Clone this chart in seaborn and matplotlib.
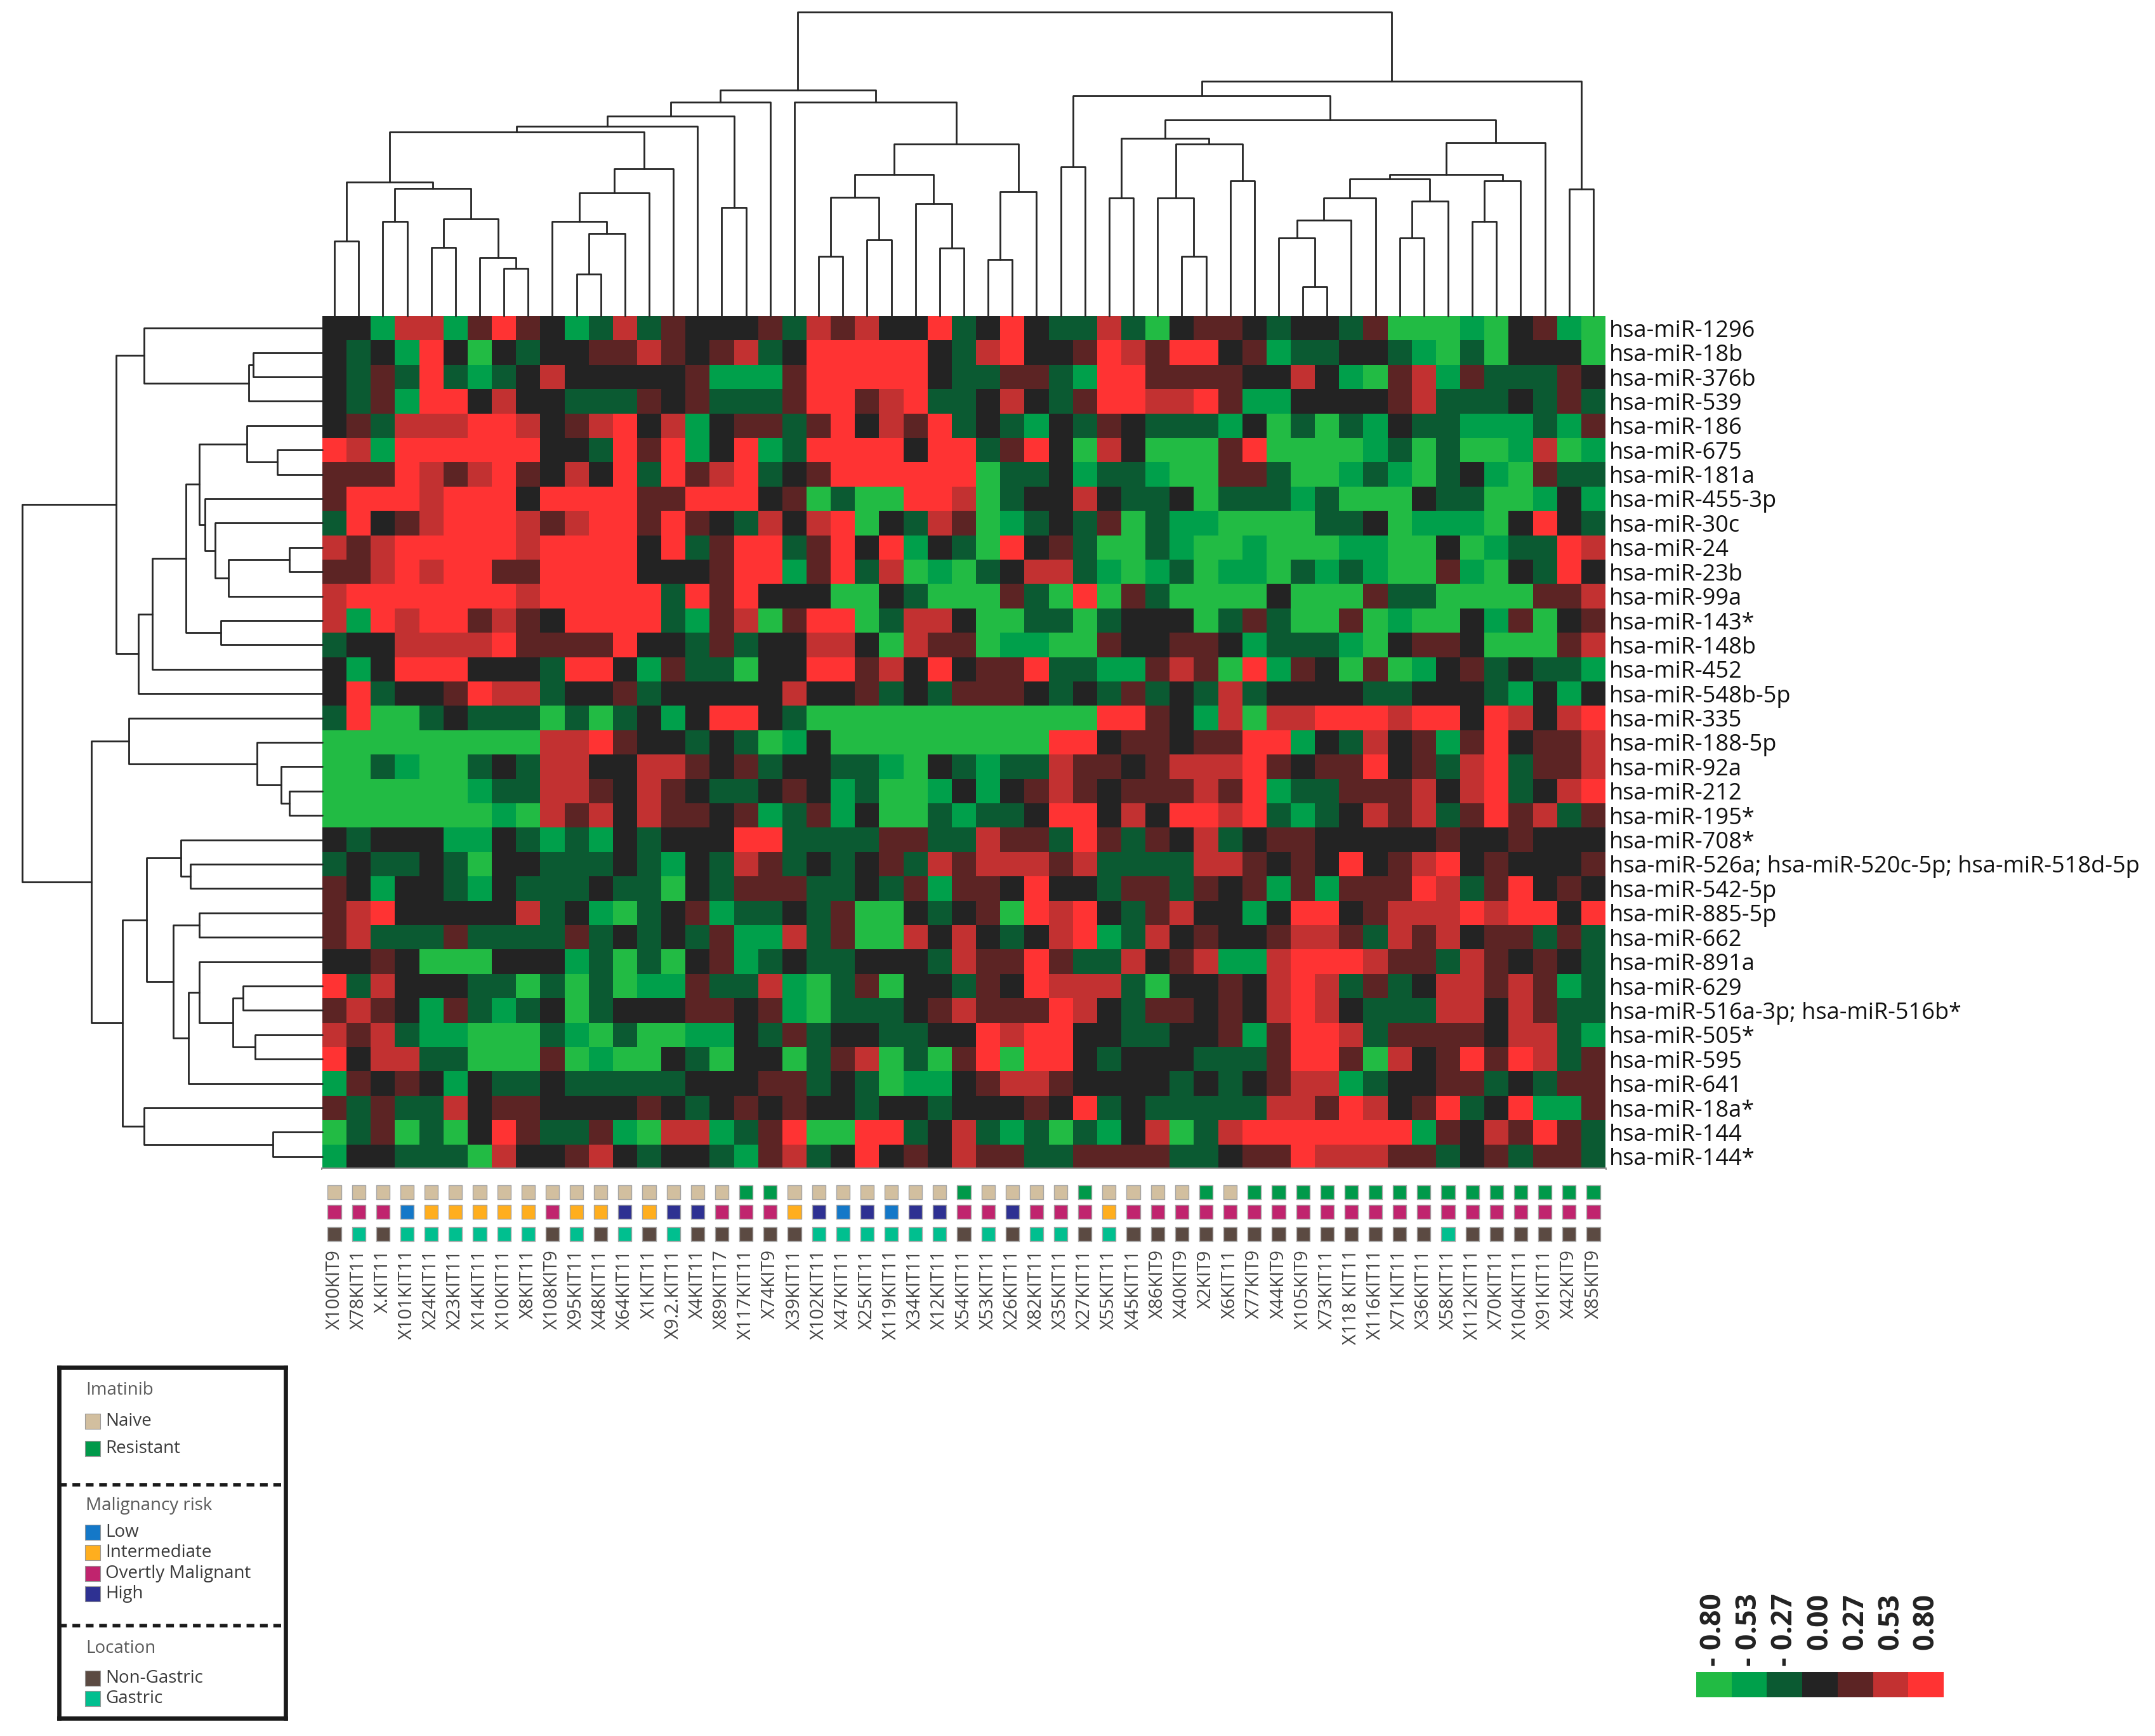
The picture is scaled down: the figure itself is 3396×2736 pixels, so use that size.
import numpy as np
import pandas as pd
import matplotlib
matplotlib.use("Agg")
import matplotlib.pyplot as plt
from matplotlib.colors import ListedColormap
from matplotlib.transforms import blended_transform_factory
import seaborn as sns

# ---- values ----
mirnas = ["hsa-miR-1296", "hsa-miR-18b", "hsa-miR-376b", "hsa-miR-539", "hsa-miR-186",
          "hsa-miR-675", "hsa-miR-181a", "hsa-miR-455-3p", "hsa-miR-30c", "hsa-miR-24",
          "hsa-miR-23b", "hsa-miR-99a", "hsa-miR-143*", "hsa-miR-148b", "hsa-miR-452",
          "hsa-miR-548b-5p", "hsa-miR-335", "hsa-miR-188-5p", "hsa-miR-92a", "hsa-miR-212",
          "hsa-miR-195*", "hsa-miR-708*", "hsa-miR-526a; hsa-miR-520c-5p; hsa-miR-518d-5p",
          "hsa-miR-542-5p", "hsa-miR-885-5p", "hsa-miR-662", "hsa-miR-891a", "hsa-miR-629",
          "hsa-miR-516a-3p; hsa-miR-516b*", "hsa-miR-505*", "hsa-miR-595", "hsa-miR-641",
          "hsa-miR-18a*", "hsa-miR-144", "hsa-miR-144*"]

samples = ["X100KIT9", "X78KIT11", "X.KIT11", "X101KIT11", "X24KIT11", "X23KIT11",
           "X14KIT11", "X10KIT11", "X8KIT11", "X108KIT9", "X95KIT11", "X48KIT11",
           "X64KIT11", "X1KIT11", "X9.2.KIT11", "X4KIT11", "X89KIT17", "X117KIT11",
           "X74KIT9", "X39KIT11", "X102KIT11", "X47KIT11", "X25KIT11", "X119KIT11",
           "X34KIT11", "X12KIT11", "X54KIT11", "X53KIT11", "X26KIT11", "X82KIT11",
           "X35KIT11", "X27KIT11", "X55KIT11", "X45KIT11", "X86KIT9", "X40KIT9",
           "X2KIT9", "X6KIT11", "X77KIT9", "X44KIT9", "X105KIT9", "X73KIT11",
           "X118 KIT11", "X116KIT11", "X71KIT11", "X36KIT11", "X58KIT11", "X112KIT11",
           "X70KIT11", "X104KIT11", "X91KIT11", "X42KIT9", "X85KIT9"]

# colour steps of the scale, one letter per step
level_codes = "GgdkmrR"
level_values = [-0.80, -0.53, -0.27, 0.00, 0.27, 0.53, 0.80]
level_colors = ["#22bb44", "#00a04b", "#0b5a32", "#232323", "#5c2424", "#c23131", "#ff3333"]
cbar_labels = ["- 0.80", "- 0.53", "- 0.27", "0.00", "0.27", "0.53", "0.80"]

expr_rows = [
    "kkgrrgmRmkgdrdmkkk mdrmrkkRdkRkddrdGk mmkdkkdmGGGgGkmgG",
    "kdkgRkGkdkkmmrmkmr dkRRRRRkdrRkkmRrmR RkmgddkkdgGdGkkkG",
    "kdmdRdgdkrkkkkkmgg gmRRRRRkddmmdgRRmm mmkkrkgGmrgmdddmk",
    "kdmgRRkrkkdddmkmdd dmRRmrRddkrkdmRRrr Rmggkkkkmrdddkdmd",
    "kmdrrrRRrkmrRkrgkm mdmRkrmRdkdgkdmkdd dgkGdGdgkddgggdgm",
    "RrgRRRRRRkkdRmRgkR gdRRRRkRRdmRkGrkGG GmRGGGGgdGdGGgrGg",
    "mmmRrmrRmkrkRdRmrR dkmRRRRRRGddkgddgG GmmdGGgdgGdkgGmdd",
    "mRRRrRRRkRRRRmmRRR kmGdGGRRrGdkkrkddk GdddgdGGGkddGGgkg",
    "dRkmrRRRrmrRRmRmkd rkrRGkdrmGgdkdmGdg gGGGGddkGgggGkRkd",
    "rmrRRRRRrRRRRkRdmR RdmRkRgkdGRkmdGGdg GGgGGGggGGkGgddRr",
    "mmrRrRRmmRRRRkkkmR RgmRdrGgGdkrrdgGgd GggGdgdgGGmgGkdRk",
    "rRRRRRRRrRRRRRdRmR kkkGGkdGGGmdGRGmdG GGGkGGGmddGGGGmmr",
    "rgRrRRmrmkRRRRdgmr GmRRGdrrkGGddGdkkk GdmdGGmGgGGkgmGkm",
    "dkkrrrrRmmmmRkkdmd kkrrkGrmmGggGGmkkm mkgdddgGkmmkGGGmr",
    "kgkRRRkkkdRRkgmddG kkRRmrkRkmmRddggmr mGRgmkGmGgkmdkddg",
    "kRdkkmRrrdkkmdkkkk krkkmdkdmmmkdkdmdk drdkkkkddkkkdgkgk",
    "dRGGdkdddGdGdkgkRR kdGGGGGGGGGGGGRRmk grGrrRRRrRRkRrkrR",
    "GGGGGGGGGrrRmkkdkd GgkGGGGGGGGGRRkmmk mmRRgkdrkmgmRkmmr",
    "GGdgGGdkdrrkkrrmkm dkkddgGkdgddrmmkmr rrRmkmmRkmdrRdmmr",
    "GGGGGGgddrrmkrmkdd kmkgdGGgkgkmrmkmmm rmRgddmmmrkrRdkrR",
    "GGGGGGGgGrmrkrmmkm gdmgkGGdgddkRRkrkR RrRdgdkrmrdmRmrdm",
    "kdkkkggkdgdgkdkkkR RddddmmddrmmdRmdmk rdkmmkkkkkmkkmkkk",
    "dkddkdGkkdddkdgkdr mdkdkmdrmrrrmrdddd rrmkmkRkmrRkmkkkm",
    "mkgkkdgkdddkddGkdm mmddkdmgmmkRkkdmmd mkmgmgmmmRrdmRkmk",
    "mrRkkkkkrdkgGdkmgd dkdmGGkdkmGRrRkdmr kkgkRRkmrrrRrRRkR",
    "mrdddmddddmdkdkdmg grdmGGrkrkdkrRgdrk mkkmrrmdrmrkmmdmd",
    "kkmkGGGkkkgdGdGkmg dkddkkkdrmmRmddrkm rggrRRRrmmdrmkmkd",
    "RdrkkkddGdGdGggmdd rgGdmGkkdmkRrrrdGk kmkrRrdmdkrrmrmgd",
    "mrmkgmdgdkGdkkkmmk mgGdddkmrmmmRrkdmm kmkrRrkdddrrkrmdd",
    "rmrdggGGGdgGdGGggk dmdkkddkkRrRRkkddk kmgmRRrdmmmmkrrdg",
    "RkrrddGGGmGgGGkdGk kGdmrGdGmRGRRkdkkk dddmRRmGrkmRmRrdm",
    "gmkmkgkddkdddddkkk mmdkdGggkmrrmkkkkd kdkmrrgdkkmmdkdmm",
    "mdmddrkmmkkkkmkdkm kmkkdkkdkkkmkRdkdd dddrrmRrkmRdkRggm",
    "GdmGdGkRmddmgGrrgd mRGGRRdkrdgdGdgkrG drRRRRRRRgmkrmRmd",
    "gkkdddGrkkmrkdkkdg mrdkRkmkrmmddmmmmd dkmmRrrrmmdkmdmmd",
]

# sample annotations, one letter per column
imatinib = "NNNNNNNNNNNNNNNNNRRNNNNNNNRNNNNRNNNNRNRRRRRRRRRRRRRRR"
malignancy = "OOOLIIIIIOIIHIHHOOOIHLHLHHOOHOOOIOOOOOOOOOOOOOOOOOOOO"
location = "NGNGGGGGGNGNGNGNNNNNGGGGGGNGNGGNGNNNNNNNNNNNNNGNNNNNN"

imatinib_keys = "NR"
imatinib_names = ["Naive", "Resistant"]
imatinib_colors = ["#d2bf9f", "#00994a"]
risk_keys = "LIOH"
risk_names = ["Low", "Intermediate", "Overtly Malignant", "High"]
risk_colors = ["#1478c8", "#ffae1e", "#c0246e", "#2e3192"]
location_keys = "NG"
location_names = ["Non-Gastric", "Gastric"]
location_colors = ["#5b4a42", "#00bf8f"]

# dendrogram merges: (node, left, right, height in picture pixels)
col_merges = [
    ("A", 0, 1, 118), ("B", 2, 3, 149), ("C", 4, 5, 108), ("D", 7, 8, 75),
    ("E", 6, "D", 92), ("F", "C", "E", 153), ("G", "B", "F", 201), ("H", "A", "G", 211),
    ("J", 10, 11, 66), ("K", "J", 12, 130), ("L", 9, "K", 149), ("M", "L", 13, 194),
    ("N", "M", 14, 232), ("O", "H", "N", 290), ("P", "O", 15, 299), ("Q", 16, 17, 171),
    ("R", "P", "Q", 315), ("S", "R", 18, 337), ("T", 20, 21, 94), ("U", 22, 23, 120),
    ("V", "T", "U", 187), ("W", 25, 26, 107), ("X", 24, "W", 177), ("Y", "V", "X", 223),
    ("Z", 27, 28, 89), ("AA", "Z", 29, 196), ("AB", "Y", "AA", 271), ("AC", 19, "AB", 337),
    ("AD", "S", "AC", 356),
    ("BA", 30, 31, 235), ("BB", 32, 33, 186), ("BC", 35, 36, 94), ("BD", 34, "BC", 186),
    ("BE", 37, 38, 213), ("BF", "BD", "BE", 271), ("BG", "BB", "BF", 280),
    ("BH", 40, 41, 46), ("BI", 39, "BH", 123), ("BJ", "BI", 42, 151), ("BK", "BJ", 43, 186),
    ("BL", 44, 45, 123), ("BM", "BL", 46, 181), ("BN", 47, 48, 149), ("BO", "BN", 49, 213),
    ("BP", "BK", "BM", 216), ("BQ", "BP", "BO", 223), ("BR", "BQ", 50, 273),
    ("BS", "BG", "BR", 309), ("BT", "BA", "BS", 347), ("BU", 51, 52, 200),
    ("BV", "BT", "BU", 370), ("root", "AD", "BV", 479),
]

row_merges = [
    ("a", 1, 2, 109), ("b", "a", 3, 116), ("c", 0, "b", 281), ("d", 5, 6, 71),
    ("e", 4, "d", 119), ("f", 9, 10, 52), ("g", "f", 11, 148), ("h", 8, "g", 169),
    ("i", 7, "h", 185), ("j", "e", "i", 194), ("k", 12, 13, 160), ("l", "j", "k", 215),
    ("m", "l", 14, 268), ("n", "m", 15, 290), ("o", "c", "n", 325),
    ("p", 19, 20, 52), ("q", 18, "p", 65), ("r", 17, "q", 103), ("s", 16, "r", 305),
    ("t", 22, 23, 208), ("u", 21, "t", 223), ("v", 24, 25, 194), ("w", 27, 28, 125),
    ("x", 29, 30, 106), ("y", "w", "x", 141), ("z", 26, "y", 194), ("aa", "z", 31, 211),
    ("bb", "v", "aa", 235), ("cc", "u", "bb", 277), ("dd", 33, 34, 78),
    ("ee", 32, "dd", 281), ("ff", "cc", "ee", 315), ("gg", "s", "ff", 364),
    ("root", "o", "gg", 473),
]

# ---- figure ----
sns.set_style("white")
plt.rcParams["font.family"] = ["Open Sans", "DejaVu Sans"]

W, H = 3396, 2736
fig = plt.figure(figsize=(W / 200, H / 200), dpi=200)


def box(x0, y0, x1, y1):
    return [x0 / W, 1 - y1 / H, (x1 - x0) / W, (y1 - y0) / H]


def draw_tree(ax, merges, n, sideways):
    pos = {i: i + 0.5 for i in range(n)}
    hgt = {i: 0.0 for i in range(n)}
    for node, a, b, h in merges:
        xs = [pos[a], pos[a], pos[b], pos[b]]
        ys = [hgt[a], h, h, hgt[b]]
        if sideways:
            xs, ys = ys, xs
        ax.plot(xs, ys, color="#262626", lw=1.0, clip_on=False)
        pos[node] = (pos[a] + pos[b]) / 2
        hgt[node] = h


values = np.array([[level_values[level_codes.index(c)] for c in row.replace(" ", "")]
                   for row in expr_rows])
df = pd.DataFrame(values, index=mirnas, columns=samples)
cmap = ListedColormap(level_colors)
half = (level_values[1] - level_values[0]) / 2
vmin, vmax = level_values[0] - half, level_values[-1] + half

# heatmap
ax = fig.add_axes(box(508, 498, 2530, 1842))
sns.heatmap(df, ax=ax, cmap=cmap, vmin=vmin, vmax=vmax, cbar=False,
            xticklabels=False, yticklabels=True)
ax.yaxis.tick_right()
ax.set_yticks(np.arange(len(mirnas)) + 0.5)
ax.set_yticklabels(mirnas, rotation=0, fontsize=13, color="#111111")
ax.tick_params(axis="y", length=0, pad=2)
ax.set_xticks(np.arange(len(samples)) + 0.5)
ax.set_xticklabels([])
ax.tick_params(axis="x", bottom=True, length=5.5, width=0.9, color="#333333")
ax.spines["bottom"].set_visible(True)
ax.spines["bottom"].set_color("#8c8c8c")
ax.spines["bottom"].set_linewidth(1.4)
ax.set_xlabel("")
ax.set_ylabel("")

# column dendrogram
ax_top = fig.add_axes(box(508, 15, 2530, 498))
draw_tree(ax_top, col_merges, len(samples), sideways=False)
ax_top.set_xlim(0, len(samples))
ax_top.set_ylim(0, 483)
ax_top.axis("off")

# row dendrogram
ax_left = fig.add_axes(box(25, 498, 508, 1842))
draw_tree(ax_left, row_merges, len(mirnas), sideways=True)
ax_left.set_xlim(483, 0)
ax_left.set_ylim(len(mirnas), 0)
ax_left.axis("off")

# annotation squares + sample labels
ax_ann = fig.add_axes(box(508, 1842, 2530, 1965))
xs = np.arange(len(samples)) + 0.5
tracks = [
    (imatinib, imatinib_keys, imatinib_colors, 1879),
    (malignancy, risk_keys, risk_colors, 1910),
    (location, location_keys, location_colors, 1945),
]
for codes, keys, colors, ypix in tracks:
    ax_ann.scatter(xs, [ypix] * len(xs), marker="s", s=58,
                   c=[colors[keys.index(c)] for c in codes],
                   edgecolors="#a5a5a5", linewidths=0.5)
ax_ann.set_xlim(0, len(samples))
ax_ann.set_ylim(1965, 1842)
ax_ann.set_yticks([])
ax_ann.set_xticks(xs)
ax_ann.set_xticklabels(samples, rotation=90, fontsize=10.5, color="#444444")
ax_ann.tick_params(axis="x", length=0, pad=1.5)
for sp in ax_ann.spines.values():
    sp.set_visible(False)

# legend box
ax_leg = fig.add_axes(box(93, 2155, 450, 2708))
ax_leg.set_xlim(93, 450)
ax_leg.set_ylim(2708, 2155)
ax_leg.set_xticks([])
ax_leg.set_yticks([])
for sp in ax_leg.spines.values():
    sp.set_visible(True)
    sp.set_color("#1a1a1a")
    sp.set_linewidth(2.4)

groups = [
    ("Imatinib", 2191, imatinib_names, imatinib_colors, [2240, 2283]),
    ("Malignancy risk", 2373, risk_names, risk_colors, [2415, 2447, 2480, 2512]),
    ("Location", 2598, location_names, location_colors, [2645, 2677]),
]
for title, ty, names, colors, ys in groups:
    ax_leg.text(135, ty, title, fontsize=10, color="#5a5a5a", va="center", ha="left")
    ax_leg.scatter([146] * len(ys), ys, marker="s", s=70, c=colors,
                   edgecolors="#9a9a9a", linewidths=0.4)
    for name, y in zip(names, ys):
        ax_leg.text(166, y, name, fontsize=10, color="#3a3a3a", va="center", ha="left")
for y in (2340, 2562):
    ax_leg.axhline(y, color="#1a1a1a", lw=2.0, ls=(0, (2.2, 1.6)))

# colour scale
ax_cb = fig.add_axes(box(2673, 2635, 3063, 2675))
sns.heatmap(np.array([level_values]), ax=ax_cb, cmap=cmap, vmin=vmin, vmax=vmax,
            cbar=False, xticklabels=False, yticklabels=False)
tr = blended_transform_factory(ax_cb.transData, ax_cb.transAxes)
for i, lab in enumerate(cbar_labels):
    ax_cb.text(i + 0.5, 4.1, lab, transform=tr, rotation=90, ha="center", va="top",
               fontsize=16, fontweight="bold", color="#222222")

fig.savefig("out.png", dpi=200, facecolor="white")
